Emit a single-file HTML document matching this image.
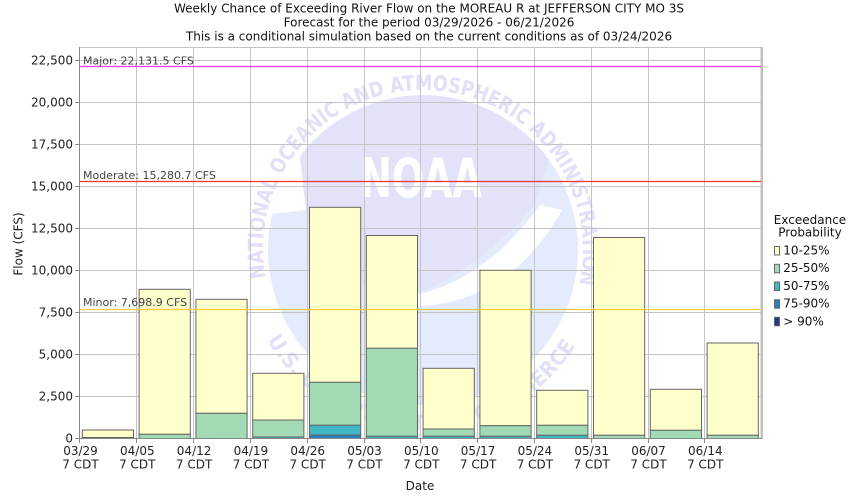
<!DOCTYPE html>
<html>
<head>
<meta charset="utf-8">
<style>
html,body{margin:0;padding:0;background:#fff;}
svg{display:block;}
text{font-family:"DejaVu Sans","Liberation Sans",sans-serif;}
</style>
</head>
<body>
<svg width="850" height="500" viewBox="0 0 850 500" xmlns="http://www.w3.org/2000/svg">
<defs>
<clipPath id="disk"><circle cx="423" cy="250" r="155"/></clipPath>
<path id="topArc" d="M265.4,277.8 A160,160 0 1 1 578.2,288.7" fill="none"/>
<path id="botArc" d="M267.1,340 A180,180 0 0 0 578.9,340" fill="none"/>
</defs>
<rect x="0" y="0" width="850" height="500" fill="#fff"/>

<!-- Titles -->
<g font-size="12" fill="#111" text-anchor="middle">
<text x="429" y="12.5">Weekly Chance of Exceeding River Flow on the MOREAU R at JEFFERSON CITY MO 3S</text>
<text x="429" y="26.5">Forecast for the period 03/29/2026 - 06/21/2026</text>
<text x="429" y="40.5">This is a conditional simulation based on the current conditions as of 03/24/2026</text>
</g>

<!-- Watermark -->
<g clip-path="url(#disk)">
<rect x="260" y="90" width="330" height="330" fill="#e3ebfc"/>
<path d="M255,90 L302,90 L300,158 L306,210 L262,215 Z" fill="#ffffff"/>
<path d="M300,158 A154,154 0 0 1 549,160 L535,205 Q480,268 420,292 Q360,292 308,262 L306,210 Z" fill="#e2e2f9"/>
<path d="M398,298 Q480,288 540,205 L562,210 Q505,312 398,306 Z" fill="#ffffff"/>
</g>
<text x="360" y="197" font-size="54" font-weight="bold" fill="#ffffff" textLength="122" lengthAdjust="spacingAndGlyphs">NOAA</text>
<text font-size="21" font-weight="bold" fill="#e0e0f7"><textPath href="#topArc" textLength="565" lengthAdjust="spacingAndGlyphs">NATIONAL OCEANIC AND ATMOSPHERIC ADMINISTRATION</textPath></text>
<text font-size="21" font-weight="bold" fill="#e0e0f7"><textPath href="#botArc" textLength="370" lengthAdjust="spacingAndGlyphs">U.S. DEPARTMENT OF COMMERCE</textPath></text>

<!-- Grid -->
<g stroke="#c4c4c4" stroke-width="1" fill="none">
<line x1="80" y1="47.5" x2="762" y2="47.5"/>
<line x1="80" y1="60.5" x2="762" y2="60.5"/>
<line x1="80" y1="102.5" x2="762" y2="102.5"/>
<line x1="80" y1="144.5" x2="762" y2="144.5"/>
<line x1="80" y1="186.5" x2="762" y2="186.5"/>
<line x1="80" y1="228.5" x2="762" y2="228.5"/>
<line x1="80" y1="270.5" x2="762" y2="270.5"/>
<line x1="80" y1="312.5" x2="762" y2="312.5"/>
<line x1="80" y1="354.5" x2="762" y2="354.5"/>
<line x1="80" y1="396.5" x2="762" y2="396.5"/>
<line x1="136.5" y1="47" x2="136.5" y2="438"/>
<line x1="193.5" y1="47" x2="193.5" y2="438"/>
<line x1="250.5" y1="47" x2="250.5" y2="438"/>
<line x1="307.5" y1="47" x2="307.5" y2="438"/>
<line x1="364.5" y1="47" x2="364.5" y2="438"/>
<line x1="420.5" y1="47" x2="420.5" y2="438"/>
<line x1="477.5" y1="47" x2="477.5" y2="438"/>
<line x1="534.5" y1="47" x2="534.5" y2="438"/>
<line x1="591.5" y1="47" x2="591.5" y2="438"/>
<line x1="648.5" y1="47" x2="648.5" y2="438"/>
<line x1="704.5" y1="47" x2="704.5" y2="438"/>
</g>
<line x1="761.8" y1="47" x2="761.8" y2="439" stroke="#c0c0c0" stroke-width="2.6"/>

<!-- Bars -->
<g stroke="#666" stroke-width="1">
<rect x="82.3" y="430" width="51.2" height="8.5" fill="#ffffcc"/>
<rect x="82.3" y="437.5" width="51.2" height="1" fill="#253494"/>
<rect x="139.1" y="289.3" width="51.2" height="145" fill="#ffffcc"/>
<rect x="139.1" y="434.3" width="51.2" height="4.2" fill="#a1dab4"/>
<rect x="195.9" y="299.3" width="51.2" height="114" fill="#ffffcc"/>
<rect x="195.9" y="413.3" width="51.2" height="25.2" fill="#a1dab4"/>
<rect x="252.7" y="373.3" width="51.2" height="46.7" fill="#ffffcc"/>
<rect x="252.7" y="420" width="51.2" height="17" fill="#a1dab4"/>
<rect x="252.7" y="437" width="51.2" height="1.5" fill="#41b6c4"/>
<rect x="309.5" y="207.3" width="51.2" height="175" fill="#ffffcc"/>
<rect x="309.5" y="382.3" width="51.2" height="43" fill="#a1dab4"/>
<rect x="309.5" y="425.3" width="51.2" height="9.7" fill="#41b6c4"/>
<rect x="309.5" y="435" width="51.2" height="3.5" fill="#2c7fb8"/>
<rect x="366.3" y="235.5" width="51.2" height="112.8" fill="#ffffcc"/>
<rect x="366.3" y="348.3" width="51.2" height="88" fill="#a1dab4"/>
<rect x="366.3" y="436.3" width="51.2" height="2.2" fill="#41b6c4"/>
<rect x="423.1" y="368.3" width="51.2" height="60.7" fill="#ffffcc"/>
<rect x="423.1" y="429" width="51.2" height="7.3" fill="#a1dab4"/>
<rect x="423.1" y="436.3" width="51.2" height="2.2" fill="#41b6c4"/>
<rect x="479.9" y="270.3" width="51.2" height="155.4" fill="#ffffcc"/>
<rect x="479.9" y="425.7" width="51.2" height="10.6" fill="#a1dab4"/>
<rect x="479.9" y="436.3" width="51.2" height="2.2" fill="#41b6c4"/>
<rect x="536.7" y="390.3" width="51.2" height="35" fill="#ffffcc"/>
<rect x="536.7" y="425.3" width="51.2" height="10" fill="#a1dab4"/>
<rect x="536.7" y="435.3" width="51.2" height="3.2" fill="#41b6c4"/>
<rect x="593.5" y="237.5" width="51.2" height="197.8" fill="#ffffcc"/>
<rect x="593.5" y="435.3" width="51.2" height="3.2" fill="#a1dab4"/>
<rect x="650.3" y="389.3" width="51.2" height="41" fill="#ffffcc"/>
<rect x="650.3" y="430.3" width="51.2" height="8.2" fill="#a1dab4"/>
<rect x="707.1" y="343" width="51.2" height="92.3" fill="#ffffcc"/>
<rect x="707.1" y="435.3" width="51.2" height="3.2" fill="#a1dab4"/>
</g>

<!-- Threshold lines -->
<line x1="80" y1="66.5" x2="761" y2="66.5" stroke="#ff33ff" stroke-width="1.2"/>
<line x1="80" y1="181.5" x2="761" y2="181.5" stroke="#ee3333" stroke-width="1.2"/>
<line x1="80" y1="309.5" x2="761" y2="309.5" stroke="#f9cc40" stroke-width="1.2"/>
<g font-size="11" fill="#444">
<text x="83" y="64.5">Major: 22,131.5 CFS</text>
<text x="83" y="179">Moderate: 15,280.7 CFS</text>
<text x="83" y="306">Minor: 7,698.9 CFS</text>
</g>

<!-- Axes -->
<g stroke="#888" stroke-width="1">
<line x1="79.5" y1="47" x2="79.5" y2="439"/>
<line x1="79" y1="438.5" x2="762" y2="438.5"/>
<line x1="75" y1="60.5" x2="79" y2="60.5"/>
<line x1="75" y1="102.5" x2="79" y2="102.5"/>
<line x1="75" y1="144.5" x2="79" y2="144.5"/>
<line x1="75" y1="186.5" x2="79" y2="186.5"/>
<line x1="75" y1="228.5" x2="79" y2="228.5"/>
<line x1="75" y1="270.5" x2="79" y2="270.5"/>
<line x1="75" y1="312.5" x2="79" y2="312.5"/>
<line x1="75" y1="354.5" x2="79" y2="354.5"/>
<line x1="75" y1="396.5" x2="79" y2="396.5"/>
<line x1="75" y1="438.5" x2="79" y2="438.5"/>
<line x1="79.5" y1="438" x2="79.5" y2="443"/>
<line x1="136.5" y1="438" x2="136.5" y2="443"/>
<line x1="193.5" y1="438" x2="193.5" y2="443"/>
<line x1="250.5" y1="438" x2="250.5" y2="443"/>
<line x1="307.5" y1="438" x2="307.5" y2="443"/>
<line x1="364.5" y1="438" x2="364.5" y2="443"/>
<line x1="420.5" y1="438" x2="420.5" y2="443"/>
<line x1="477.5" y1="438" x2="477.5" y2="443"/>
<line x1="534.5" y1="438" x2="534.5" y2="443"/>
<line x1="591.5" y1="438" x2="591.5" y2="443"/>
<line x1="648.5" y1="438" x2="648.5" y2="443"/>
<line x1="704.5" y1="438" x2="704.5" y2="443"/>
</g>

<!-- Y tick labels -->
<g font-size="12" fill="#222" text-anchor="end">
<text x="73" y="64.3">22,500</text>
<text x="73" y="106.3">20,000</text>
<text x="73" y="148.3">17,500</text>
<text x="73" y="190.3">15,000</text>
<text x="73" y="232.3">12,500</text>
<text x="73" y="274.3">10,000</text>
<text x="73" y="316.3">7,500</text>
<text x="73" y="358.3">5,000</text>
<text x="73" y="400.3">2,500</text>
<text x="73" y="442.3">0</text>
</g>

<!-- X tick labels -->
<g font-size="12" fill="#222" text-anchor="middle">
<text x="80.5" y="455">03/29</text><text x="80.5" y="468.7">7 CDT</text>
<text x="137.3" y="455">04/05</text><text x="137.3" y="468.7">7 CDT</text>
<text x="194.1" y="455">04/12</text><text x="194.1" y="468.7">7 CDT</text>
<text x="250.9" y="455">04/19</text><text x="250.9" y="468.7">7 CDT</text>
<text x="307.7" y="455">04/26</text><text x="307.7" y="468.7">7 CDT</text>
<text x="364.5" y="455">05/03</text><text x="364.5" y="468.7">7 CDT</text>
<text x="421.3" y="455">05/10</text><text x="421.3" y="468.7">7 CDT</text>
<text x="478.1" y="455">05/17</text><text x="478.1" y="468.7">7 CDT</text>
<text x="534.9" y="455">05/24</text><text x="534.9" y="468.7">7 CDT</text>
<text x="591.7" y="455">05/31</text><text x="591.7" y="468.7">7 CDT</text>
<text x="648.5" y="455">06/07</text><text x="648.5" y="468.7">7 CDT</text>
<text x="705.3" y="455">06/14</text><text x="705.3" y="468.7">7 CDT</text>
</g>

<!-- Axis titles -->
<text x="420" y="490" font-size="12" fill="#222" text-anchor="middle">Date</text>
<text transform="translate(22.5,244) rotate(-90)" font-size="12" fill="#222" text-anchor="middle">Flow (CFS)</text>

<!-- Legend -->
<g font-size="12" fill="#111">
<text x="810" y="224" text-anchor="middle">Exceedance</text>
<text x="810" y="236.7" text-anchor="middle">Probability</text>
<g stroke="#666" stroke-width="1">
<rect x="774.5" y="246.5" width="5" height="8.5" fill="#ffffcc"/>
<rect x="774.5" y="264.3" width="5" height="8.5" fill="#a1dab4"/>
<rect x="774.5" y="282" width="5" height="8.5" fill="#41b6c4"/>
<rect x="774.5" y="299.7" width="5" height="8.5" fill="#2c7fb8"/>
<rect x="774.5" y="317.3" width="5" height="8.5" fill="#253494"/>
</g>
<text x="783.3" y="254.5">10-25%</text>
<text x="783.3" y="272.2">25-50%</text>
<text x="783.3" y="289.9">50-75%</text>
<text x="783.3" y="307.6">75-90%</text>
<text x="783.3" y="325.3">&gt; 90%</text>
</g>
</svg>
</body>
</html>
